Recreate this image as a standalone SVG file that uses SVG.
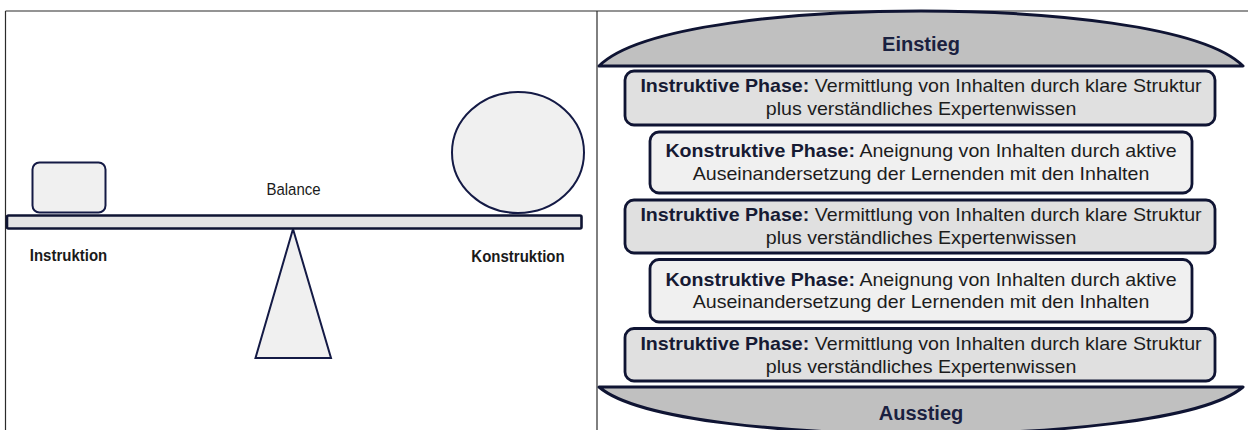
<svg xmlns="http://www.w3.org/2000/svg" width="1248" height="430" viewBox="0 0 1248 430">
  <style>
    .frame { stroke: #2b2b2b; stroke-width: 1.2; fill: none; }
    .shape { stroke: #141a45; stroke-width: 2; fill: #f0f0f0; }
    .beam { stroke: #0f1433; stroke-width: 2.6; fill: #e4e4e4; }
    .arch { stroke: #0f1433; stroke-width: 3; fill: #c0c0c0; stroke-linejoin: round; }
    .boxI { stroke: #0f1433; stroke-width: 2.8; fill: #e0e0e0; }
    .boxK { stroke: #0f1433; stroke-width: 2.8; fill: #f0f0f0; }
    .lbl { font-family: "Liberation Sans", Arial, sans-serif; fill: #1a1a1a; font-size: 15px; text-anchor: middle; }
    .lblb { font-family: "Liberation Sans", Arial, sans-serif; font-weight: bold; fill: #1a1a1a; font-size: 15px; text-anchor: middle; }
    .ph { font-family: "Liberation Sans", Arial, sans-serif; font-size: 18px; fill: #1c1c1c; text-anchor: middle; }
    .ph .b { font-weight: bold; fill: #161a33; }
    .ttl { font-family: "Liberation Sans", Arial, sans-serif; font-size: 20px; font-weight: bold; fill: #1a2140; text-anchor: middle; }
  </style>

  <g id="frame">
    <line class="frame" x1="5.5" y1="11" x2="1248" y2="11"/>
    <line class="frame" x1="5.5" y1="11" x2="5.5" y2="430"/>
    <line class="frame" x1="597" y1="11" x2="597" y2="430"/>
  </g>

  <g id="connectors"></g>

  <!-- Left: balance scale -->
  <g id="fulcrum">
    <polygon class="shape" points="293,229 331,358 255.5,358"/>
  </g>
  <g id="beam">
    <rect class="beam" x="7" y="215.5" width="574.5" height="13" rx="1.5"/>
  </g>
  <g id="block-instruktion">
    <rect class="shape" x="32.5" y="162.5" width="73" height="50" rx="7"/>
  </g>
  <g id="ball-konstruktion">
    <ellipse class="shape" cx="518" cy="152.5" rx="66" ry="60.5"/>
  </g>
  <g id="label-balance" transform="translate(293.5 195) scale(1 1.15)">
    <text class="lbl" x="0" y="0">Balance</text>
  </g>
  <g id="label-instruktion" transform="translate(68.5 260.5) scale(1 1.15)">
    <text class="lblb" x="0" y="0">Instruktion</text>
  </g>
  <g id="label-konstruktion" transform="translate(518 261.5) scale(1 1.15)">
    <text class="lblb" x="0" y="0">Konstruktion</text>
  </g>

  <!-- Right: phases -->
  <g id="einstieg">
    <path class="arch" d="M599,66 C640,25 800,11 921,11 C1042,11 1202,25 1243,66 Z"/>
    <text class="ttl" x="921" y="51">Einstieg</text>
  </g>

  <g id="phase1">
    <rect class="boxI" x="625" y="71" width="590" height="54" rx="9"/>
    <g transform="translate(921 0) scale(1.09 1)">
      <text class="ph" x="0" y="92"><tspan class="b">Instruktive Phase:</tspan> Vermittlung von Inhalten durch klare Struktur</text>
      <text class="ph" x="0" y="115">plus verständliches Expertenwissen</text>
    </g>
  </g>

  <g id="phase2">
    <rect class="boxK" x="650" y="132" width="542" height="61" rx="9"/>
    <g transform="translate(921 0) scale(1.09 1)">
      <text class="ph" x="0" y="157"><tspan class="b">Konstruktive Phase:</tspan> Aneignung von Inhalten durch aktive</text>
      <text class="ph" x="0" y="180.5">Auseinandersetzung der Lernenden mit den Inhalten</text>
    </g>
  </g>

  <g id="phase3">
    <rect class="boxI" x="625" y="200" width="590" height="53" rx="9"/>
    <g transform="translate(921 0) scale(1.09 1)">
      <text class="ph" x="0" y="221.5"><tspan class="b">Instruktive Phase:</tspan> Vermittlung von Inhalten durch klare Struktur</text>
      <text class="ph" x="0" y="244.3">plus verständliches Expertenwissen</text>
    </g>
  </g>

  <g id="phase4">
    <rect class="boxK" x="650" y="259.5" width="542" height="62.5" rx="9"/>
    <g transform="translate(921 0) scale(1.09 1)">
      <text class="ph" x="0" y="285.7"><tspan class="b">Konstruktive Phase:</tspan> Aneignung von Inhalten durch aktive</text>
      <text class="ph" x="0" y="308.3">Auseinandersetzung der Lernenden mit den Inhalten</text>
    </g>
  </g>

  <g id="phase5">
    <rect class="boxI" x="625" y="328.5" width="590" height="52.5" rx="9"/>
    <g transform="translate(921 0) scale(1.09 1)">
      <text class="ph" x="0" y="350"><tspan class="b">Instruktive Phase:</tspan> Vermittlung von Inhalten durch klare Struktur</text>
      <text class="ph" x="0" y="372.7">plus verständliches Expertenwissen</text>
    </g>
  </g>

  <g id="ausstieg">
    <path class="arch" d="M599,387 C640,422 800,434 921,434 C1042,434 1202,422 1243,387 Z"/>
    <text class="ttl" x="921" y="420">Ausstieg</text>
  </g>
</svg>
